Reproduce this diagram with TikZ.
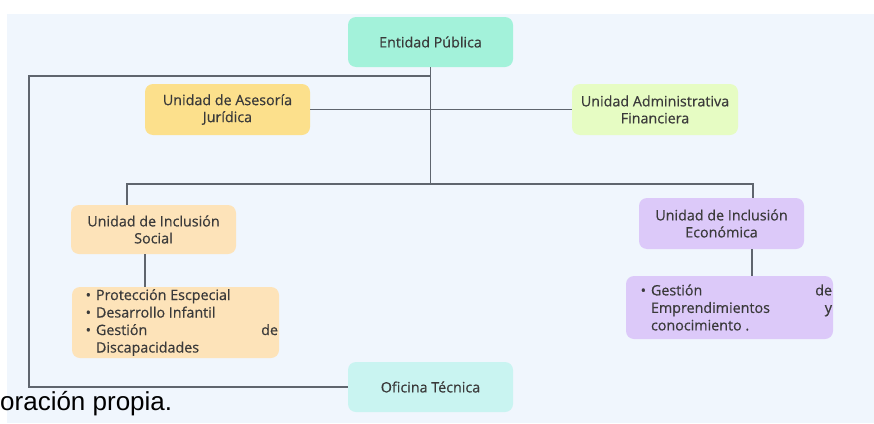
\documentclass[tikz,border=0pt]{standalone}
\usepackage{fontspec}
\setmainfont{Open Sans}
\newfontfamily\boxfont{Open Sans}[FakeBold=0.5]
\newfontfamily\captionfont{Liberation Sans}
\definecolor{panel}{HTML}{F0F6FD}
\definecolor{mint}{HTML}{A3F2DA}
\definecolor{yellowc}{HTML}{FCE08C}
\definecolor{greenc}{HTML}{E6FCC3}
\definecolor{peach}{HTML}{FDE3B9}
\definecolor{lav}{HTML}{DCC9F9}
\definecolor{cyanc}{HTML}{C9F4F1}
\definecolor{txt}{HTML}{3A3A3A}
\definecolor{linec}{HTML}{5F656E}
\begin{document}
\begin{tikzpicture}[x=1pt,y=-1pt,
  unit/.style={rounded corners=8pt, align=center, inner sep=0pt, text=txt,
    font=\boxfont\fontsize{14.3}{17}\selectfont},
  listbox/.style={rounded corners=8pt, inner sep=0pt, text=txt,
    font=\boxfont\fontsize{14.3}{17.5}\selectfont},
  conn/.style={draw=linec, line width=1.5pt}]
\useasboundingbox (0,0) rectangle (874,423);
\fill[panel] (7,14) rectangle (874,423);

\node[unit, fill=mint, minimum width=165pt, minimum height=50pt] (ent) at (430.5,42) {Entidad Pública};
\node[unit, fill=yellowc, minimum width=165pt, minimum height=51pt] (ases) at (227.5,109.5) {Unidad de Asesoría\\Jurídica};
\node[unit, fill=greenc, minimum width=166pt, minimum height=51pt] (admin) at (655,109.5) {Unidad Administrativa\\Financiera};
\node[unit, fill=peach, minimum width=165pt, minimum height=49pt] (social) at (153.5,229.5) {Unidad de Inclusión\\Social};
\node[unit, fill=lav, minimum width=165pt, minimum height=51pt] (econ) at (721.5,223.5) {Unidad de Inclusión\\Económica};
\node[unit, fill=cyanc, minimum width=165pt, minimum height=50pt] (ofi) at (430.5,387) {Oficina Técnica};

\node[listbox, fill=peach, minimum width=207pt, minimum height=71pt] (list1) at (175.5,322.5)
  {\hspace*{24pt}\parbox{182pt}{\leavevmode\llap{\textbullet\hspace{5pt}}Protección Escpecial\\
   \llap{\textbullet\hspace{5pt}}Desarrollo Infantil\\
   \llap{\textbullet\hspace{5pt}}Gestión\hfill de\\
   Discapacidades}\hspace*{1pt}};
\node[listbox, fill=lav, minimum width=207pt, minimum height=63pt] (list2) at (729.5,307.5)
  {\hspace*{25pt}\parbox{181pt}{\leavevmode\llap{\textbullet\hspace{5pt}}Gestión\hfill de\\
   Emprendimientos\hfill y\\
   conocimiento .}\hspace*{1pt}};

\node[font=\captionfont\fontsize{26}{30}\selectfont, anchor=base west, inner sep=0pt] (cap) at (0,410) {oración propia.};

\coordinate (topbus) at (0,76);
\coordinate (lowbus) at (0,184);
\coordinate (leftx) at (29,0);
\coordinate (socx) at (127,0);
\coordinate (econx) at (753,0);
\coordinate (soc2x) at (145,0);
\coordinate (econ2x) at (752,0);

\draw[conn] (ent.south) -- (ent.south |- lowbus);
\draw[conn] (ent.south |- topbus) -- (leftx |- topbus) |- (ofi.west);
\draw[conn] (ases.east) -- (admin.west);
\draw[conn] (socx |- social.north) |- (econx |- lowbus) -- (econx |- econ.north);
\draw[conn] (soc2x |- social.south) -- (soc2x |- list1.north);
\draw[conn] (econ2x |- econ.south) -- (econ2x |- list2.north);
\end{tikzpicture}
\end{document}
